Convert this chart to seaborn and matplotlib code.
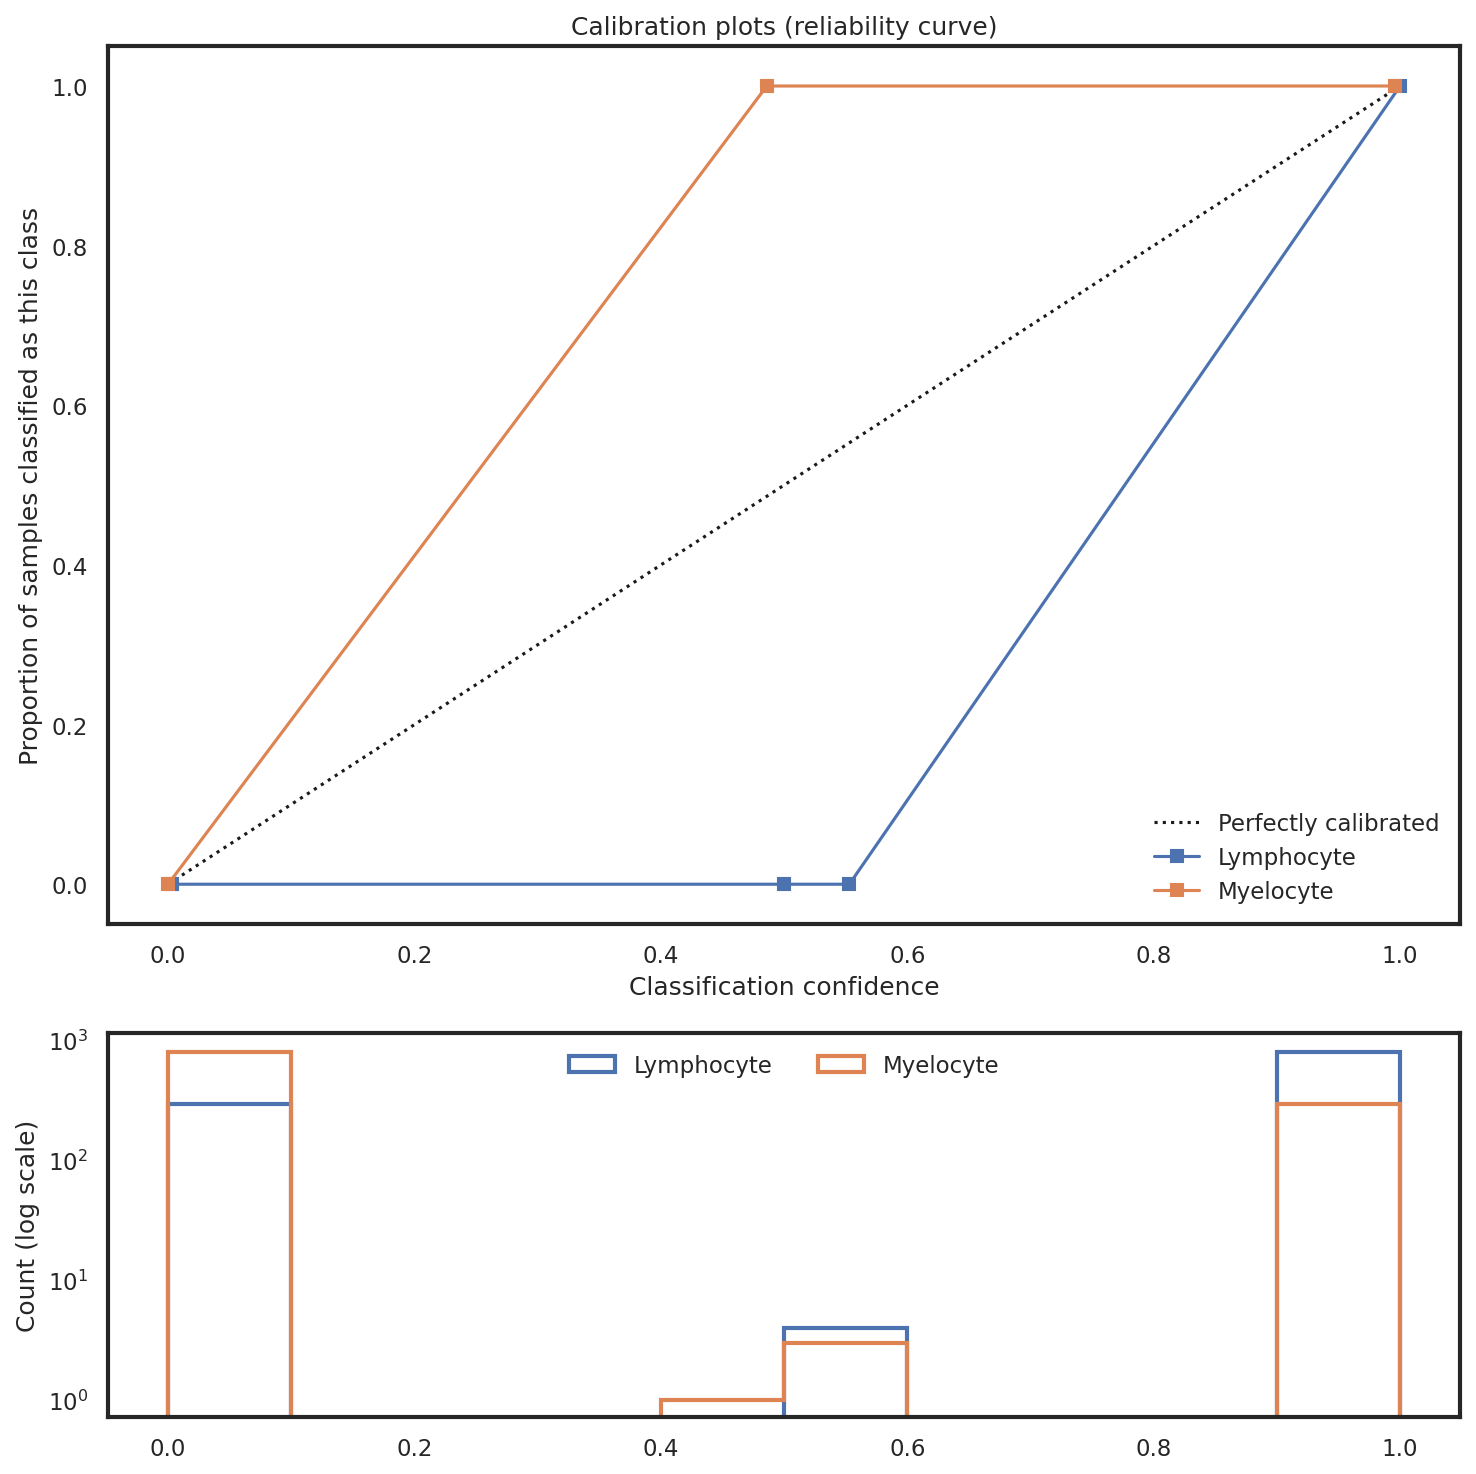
import numpy as np
import matplotlib
matplotlib.use("Agg")
import matplotlib.pyplot as plt
import seaborn as sns

# calibration curve points
classes = ["Lymphocyte", "Myelocyte"]
lymph_conf = [0.003, 0.5, 0.553, 1.0]
lymph_frac = [0.0, 0.0, 0.0, 1.0]
myelo_conf = [0.0, 0.486, 0.996]
myelo_frac = [0.0, 1.0, 1.0]

# histogram counts per bin (10 bins over 0..1)
bin_edges = np.linspace(0.0, 1.0, 11)
lymph_counts = [290, 0, 0, 0, 0, 4, 0, 0, 0, 800]
myelo_counts = [800, 0, 0, 0, 1, 3, 0, 0, 0, 290]

sns.set_theme(style="white")
palette = sns.color_palette("deep")

fig = plt.figure(figsize=(9.84, 9.833), dpi=150)
ax1 = fig.add_axes([0.0732, 0.3728, 0.916, 0.5953])
ax2 = fig.add_axes([0.0732, 0.0386, 0.916, 0.2603])

for ax in (ax1, ax2):
    for s in ax.spines.values():
        s.set_linewidth(2.0)
        s.set_color("#262626")

ax1.plot([0, 1], [0, 1], "k:", label="Perfectly calibrated")
ax1.plot(lymph_conf, lymph_frac, "s-", color=palette[0], label=classes[0])
ax1.plot(myelo_conf, myelo_frac, "s-", color=palette[1], label=classes[1])
ax1.set_ylim(-0.05, 1.05)
ax1.set_ylabel("Proportion of samples classified as this class")
ax1.set_xlabel("Classification confidence")
ax1.set_title("Calibration plots (reliability curve)")
ax1.legend(loc="lower right", frameon=False)

centers = (bin_edges[:-1] + bin_edges[1:]) / 2
ax2.hist(centers, bins=bin_edges, weights=lymph_counts, histtype="step",
         lw=2, color=palette[0], label=classes[0], log=True)
ax2.hist(centers, bins=bin_edges, weights=myelo_counts, histtype="step",
         lw=2, color=palette[1], label=classes[1], log=True)
ax2.set_ylim(0.72, 1140)
ax2.set_xlim(-0.0487, 1.0487)
ax1.set_xlim(-0.0487, 1.0487)
ax2.set_ylabel("Count (log scale)")
ax2.legend(loc="upper center", ncol=2, frameon=False)

fig.savefig("out.png", dpi=150)
